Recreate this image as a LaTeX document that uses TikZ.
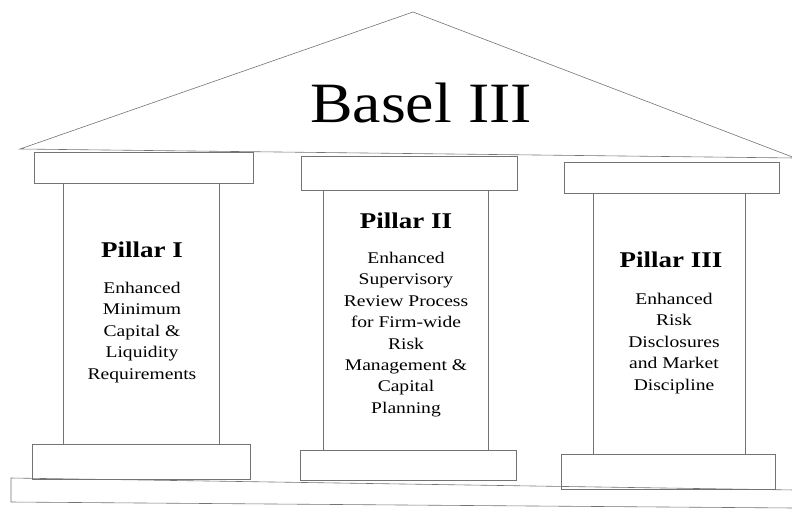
\documentclass[tikz,border=0pt]{standalone}
\usepackage{fontspec}
\setmainfont{Liberation Serif}
\newfontfamily\widefont{Liberation Serif}[FakeStretch=1.2]
\newfontfamily\titlefont{Liberation Serif}[FakeStretch=1.12]
\usetikzlibrary{positioning}

\tikzset{
 slab/.style={draw=black!55, line width=0.6pt, rectangle, inner sep=0pt},
 head/.style={font=\widefont\fontsize{22.5}{26}\selectfont\bfseries, anchor=base, inner sep=0pt},
 body/.style={font=\widefont\fontsize{16.3}{21.4}\selectfont, align=center, inner sep=0pt, anchor=north}
}

\begin{document}
\begin{tikzpicture}[x=1pt,y=-1pt]
\useasboundingbox (0,0) rectangle (792,512);
% roof
\coordinate (eaveL) at (20,149);
\coordinate (apex) at (413,12);
\coordinate (eaveR) at (795,158);
\draw[slab] (eaveL) -- (apex) -- (eaveR) -- cycle;
\node[font=\titlefont\fontsize{57}{60}\selectfont, anchor=base, inner sep=0pt] (basel) at (421,122) {Basel III};
% pillar I
\node[slab, minimum width=219, minimum height=31] (cap1) at (143.5,167.5) {};
\node[slab, minimum width=156, minimum height=261] (shaft1) at (141,313.5) {};
\node[slab, minimum width=218, minimum height=35] (base1) at (141,461.5) {};
\node[head] (t1) at (142,257) {Pillar I};
\node[body] (b1) at (142,282) {Enhanced\\Minimum\\Capital \&\\Liquidity\\Requirements};
% pillar II
\node[slab, minimum width=216, minimum height=34] (cap2) at (409,173) {};
\node[slab, minimum width=165, minimum height=260] (shaft2) at (405.5,320) {};
\node[slab, minimum width=216, minimum height=30] (base2) at (408,465) {};
\node[head] (t2) at (406,228) {Pillar II};
\node[body] (b2) at (406,252) {Enhanced\\Supervisory\\Review Process\\for Firm-wide\\Risk\\Management \&\\Capital\\Planning};
% pillar III
\node[slab, minimum width=215, minimum height=31] (cap3) at (671.5,177.5) {};
\node[slab, minimum width=152, minimum height=261] (shaft3) at (669,323.5) {};
\node[slab, minimum width=214, minimum height=35] (base3) at (668,471.5) {};
\node[head] (t3) at (671,267) {Pillar III};
\node[body] (b3) at (674,293) {Enhanced\\Risk\\Disclosures\\and Market\\Discipline};
% floor
\draw[slab] (11,478) -- (795,490) -- (795,508) -- (11,502) -- cycle;
\end{tikzpicture}
\end{document}
